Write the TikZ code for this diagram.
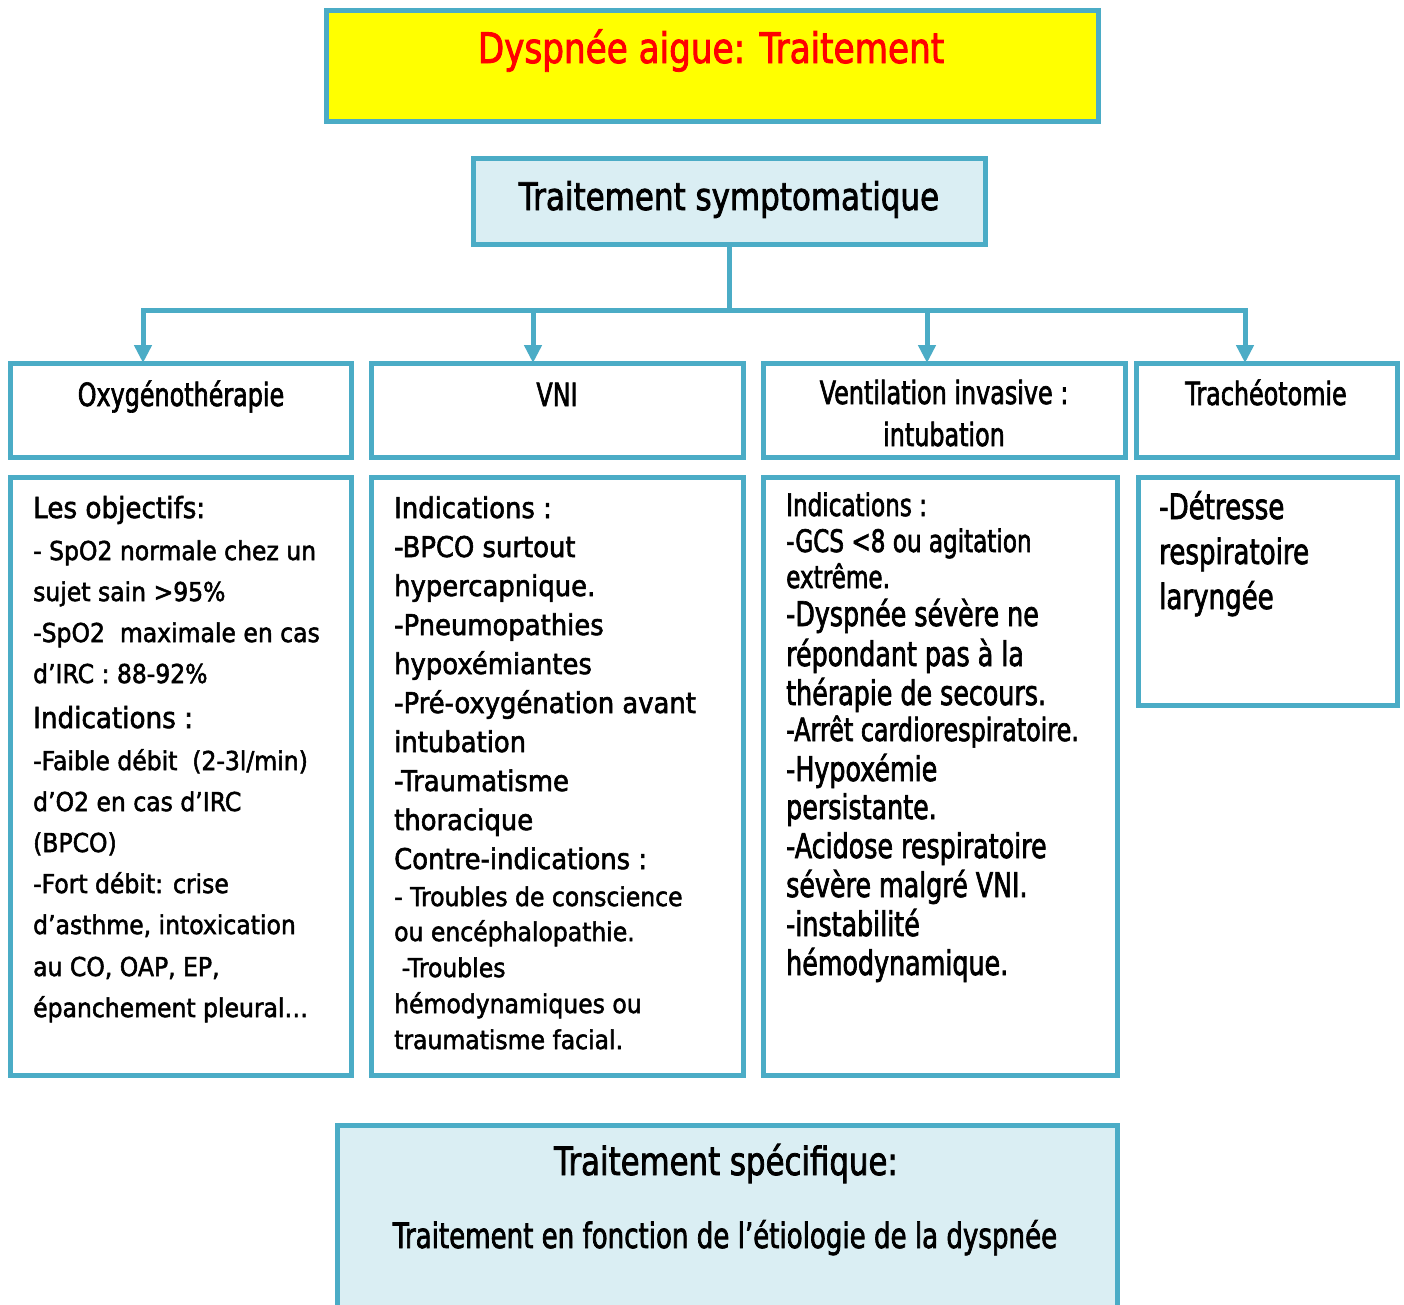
\documentclass[tikz,border=0pt]{standalone}
\usepackage{fontspec}
\usetikzlibrary{arrows.meta}
\setmainfont{DejaVu Sans}
% width-adjusted variants of the same sans face
\newfontfamily\fA[FakeStretch=0.904,FakeBold=2]{DejaVu Sans}
\newfontfamily\fC[FakeStretch=0.745,FakeBold=2]{DejaVu Sans}
\newfontfamily\fT[FakeStretch=0.815,FakeBold=2]{DejaVu Sans}
\newfontfamily\fB[FakeStretch=0.79,FakeBold=2]{DejaVu Sans}
\definecolor{aqua}{HTML}{4BACC6}
\definecolor{paleblue}{HTML}{DAEEF3}
\definecolor{hiyellow}{HTML}{FFFF00}
\definecolor{hired}{HTML}{FF0000}
\newcommand{\fz}[1]{\fontsize{#1}{#1}\selectfont}
\begin{document}
\begin{tikzpicture}[x=1pt,y=-1pt,
  box/.style={draw=aqua, line width=5pt, rectangle, inner sep=0pt, outer sep=0pt},
  conn/.style={draw=aqua, line width=5pt},
  arr/.style={conn, -{Triangle[width=17pt,length=18pt]}},
  lineA/.style={anchor=base west, inner sep=0pt, text=black},
]
\useasboundingbox (0,0) rectangle (1404,1304);
\clip (0,0) rectangle (1404,1304);
\fill[white] (0,0) rectangle (1404,1304);

% title and first-level box
\node[box, fill=hiyellow, minimum width=772pt, minimum height=111pt] (title) at (712,65.5) {};
\node[anchor=base, inner sep=0pt, text=hired, font={\fT\fz{42}}] (titletxt) at (711,63) {Dyspnée aigue: Traitement};

\node[box, fill=paleblue, minimum width=512pt, minimum height=86pt] (sympt) at (729,201) {};
\node[anchor=base, inner sep=0pt, font={\fT\fz{38}}] (symtxt) at (729,210) {Traitement symptomatique};

% headings of the four treatments
\node[box, fill=white, minimum width=341pt, minimum height=94pt] (oxy) at (180.5,410) {};
\node[box, fill=white, minimum width=372pt, minimum height=94pt] (vni) at (557,410) {};
\node[box, fill=white, minimum width=362pt, minimum height=94pt] (vi) at (944,410) {};
\node[box, fill=white, minimum width=261pt, minimum height=94pt] (trach) at (1266.5,410) {};

\node[anchor=base, inner sep=0pt, font={\fC\fz{32}}] (oxytxt) at (181,406) {Oxygénothérapie};
\node[anchor=base, inner sep=0pt, font={\fC\fz{32}}] (vnitxt) at (557,406) {VNI};
\node[anchor=base, inner sep=0pt, font={\fC\fz{32}}] (vitxt) at (944,404) {Ventilation invasive :};
\node[anchor=base, inner sep=0pt, font={\fC\fz{32}}] (vitxtb) at (944,446) {intubation};
\node[anchor=base, inner sep=0pt, font={\fC\fz{32}}] (trachtxt) at (1266,405) {Trachéotomie};

% detail boxes
\node[box, fill=white, minimum width=341pt, minimum height=598pt] (oxyd) at (180.5,776) {};
\node[box, fill=white, minimum width=372pt, minimum height=598pt] (vnid) at (557,776) {};
\node[box, fill=white, minimum width=354pt, minimum height=598pt] (vid) at (940,776) {};
\node[box, fill=white, minimum width=259pt, minimum height=228pt] (trachd) at (1267.5,591) {};

% specific treatment
\node[box, fill=paleblue, minimum width=780pt, minimum height=205pt] (spec) at (727,1227.5) {};
\node[anchor=base, inner sep=0pt, font={\fB\fz{39}}] (spectxt) at (726,1175) {Traitement spécifique:};
\node[anchor=base, inner sep=0pt, font={\fC\fz{35}}] (spectxtb) at (725,1248) {Traitement en fonction de l’étiologie de la dyspnée};

% connectors
\coordinate (hub) at (729,310);
\coordinate (j1) at (143,310);
\coordinate (j2) at (533,310);
\coordinate (j3) at (927,310);
\coordinate (j4) at (1245,310);
\draw[conn] (sympt.south) -- (hub);
\draw[conn, line cap=rect] (j1) -- (j4);
\draw[arr] (j1) -- (j1 |- oxy.north);
\draw[arr] (j2) -- (j2 |- vni.north);
\draw[arr] (j3) -- (j3 |- vi.north);
\draw[arr] (j4) -- (j4 |- trach.north);

% Oxygenotherapie details
\foreach \by/\fs/\txt [count=\i] in {
  518/29/{Les objectifs:},
  560/26/{- SpO2 normale chez un},
  601/26/{sujet sain >95\%},
  642/26/{-SpO2\ \ maximale en cas},
  683/26/{d’IRC : 88-92\%},
  728/29/{Indications :},
  770/26/{-Faible débit\ \ (2-3l/min)},
  811/26/{d’O2 en cas d’IRC},
  852/26/{(BPCO)},
  893/26/{-Fort débit: crise},
  934/26/{d’asthme, intoxication},
  976/26/{au CO, OAP, EP,},
  1017/26/{épanchement pleural…}}
  \node[lineA, font={\fA\fz{\fs}}] (a\i) at (33,\by) {\txt};

% VNI details
\foreach \by/\fs/\txt [count=\i] in {
  518/28.6/{Indications :},
  557/28.6/{-BPCO surtout},
  596/28.6/{hypercapnique.},
  635/28.6/{-Pneumopathies},
  674/28.6/{hypoxémiantes},
  713/28.6/{-Pré-oxygénation avant},
  752/28.6/{intubation},
  791/28.6/{-Traumatisme},
  830/28.6/{thoracique},
  869/28.6/{Contre-indications :},
  906/26/{- Troubles de conscience},
  941/26/{ou encéphalopathie.},
  977/26/{\ -Troubles},
  1013/26/{hémodynamiques ou},
  1049/26/{traumatisme facial.}}
  \node[lineA, font={\fA\fz{\fs}}] (b\i) at (394,\by) {\txt};

% invasive ventilation details
\foreach \by/\fs/\txt [count=\i] in {
  516/31/{Indications :},
  552/31/{-GCS <8 ou agitation},
  588/31/{extrême.},
  626/34/{-Dyspnée sévère ne},
  666/34/{répondant pas à la},
  705/34/{thérapie de secours.},
  741/32/{-Arrêt cardiorespiratoire.},
  781/34/{-Hypoxémie},
  819/34/{persistante.},
  858/34/{-Acidose respiratoire},
  897/34/{sévère malgré VNI.},
  936/34/{-instabilité},
  975/34/{hémodynamique.}}
  \node[lineA, font={\fC\fz{\fs}}] (c\i) at (786,\by) {\txt};

% tracheotomy details
\foreach \by/\txt [count=\i] in {
  519/{-Détresse},
  564/{respiratoire},
  609/{laryngée}}
  \node[lineA, font={\fC\fz{35}}] (d\i) at (1159,\by) {\txt};
\end{tikzpicture}
\end{document}
